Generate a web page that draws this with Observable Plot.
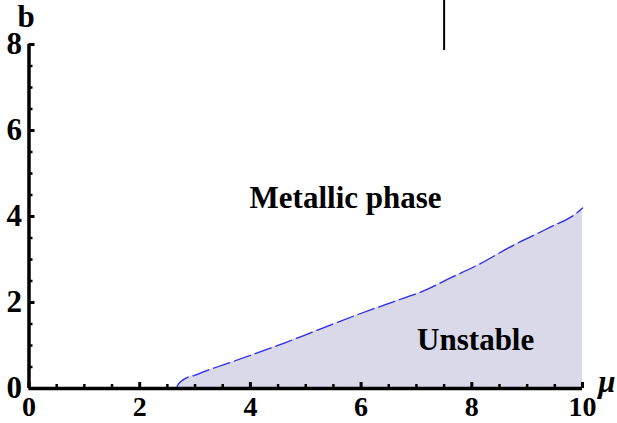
<!DOCTYPE html>
<html>
<head>
<meta charset="utf-8">
<script src="https://cdn.jsdelivr.net/npm/d3@7"></script>
<script src="https://cdn.jsdelivr.net/npm/@observablehq/plot@0.6"></script>
<style>
  html, body { margin: 0; padding: 0; background: #fff; }
  svg { display: block; }
</style>
</head>
<body>
<div id="chart"></div>
<script>
// Phase boundary (dashed blue curve)
const mu = [2.66, 2.70, 2.76, 2.85, 2.98, 3.2, 3.4, 4.0, 4.6, 5.2, 5.9, 6.7, 7.15, 7.55, 8.15, 8.75, 9.35, 9.95, 10];
const bVals = [0, 0.10, 0.18, 0.25, 0.30, 0.41, 0.50, 0.77, 1.05, 1.35, 1.70, 2.07, 2.28, 2.53, 2.90, 3.33, 3.71, 4.14, 4.20];

// Vertical marker segment
const markerMu = [7.5];
const markerB = [7.86, 9.1];

// Ticks
const xMajor = [0, 2, 4, 6, 8, 10];
const xMinor = [0.5, 1, 1.5, 2.5, 3, 3.5, 4.5, 5, 5.5, 6.5, 7, 7.5, 8.5, 9, 9.5];
const yMajor = [0, 2, 4, 6, 8];
const yMinor = [0.5, 1, 1.5, 2.5, 3, 3.5, 4.5, 5, 5.5, 6.5, 7, 7.5];

// Region labels
const labels = [
  {text: "Metallic phase", x: 5.72, y: 4.42},
  {text: "Unstable", x: 8.07, y: 1.12}
];

const curve = mu.map((m, i) => ({mu: m, b: bVals[i]}));
const font = "'Liberation Serif', 'Times New Roman', serif";
const FS = 31;

const chart = Plot.plot({
  width: 617,
  height: 423,
  marginLeft: 28.5,
  marginRight: 35,
  marginTop: 44,
  marginBottom: 35,
  style: {fontFamily: font, fontWeight: "bold", fontSize: FS + "px", background: "#fff"},
  x: {domain: [0, 10], axis: null},
  y: {domain: [0, 8], axis: null},
  marks: [
    Plot.areaY(curve, {x: "mu", y: "b", fill: "#d9d9ea", curve: "monotone-x"}),
    Plot.line(curve, {x: "mu", y: "b", stroke: "#2a2af0", strokeWidth: 1.3, strokeDasharray: "17,5", curve: "monotone-x"}),
    // axis lines
    Plot.ruleY([0], {x1: 0, x2: 10, stroke: "#000", strokeWidth: 3.5}),
    Plot.ruleX([0], {y1: 0, y2: 8, stroke: "#000", strokeWidth: 3.5}),
    // ticks
    Plot.axisX(xMajor, {tickSize: -6, text: null, strokeWidth: 3, anchor: "bottom"}),
    Plot.axisX(xMinor, {tickSize: -4, text: null, strokeWidth: 2.5, anchor: "bottom"}),
    Plot.axisY(yMajor, {tickSize: -6, text: null, strokeWidth: 3, anchor: "left"}),
    Plot.axisY(yMinor, {tickSize: -4, text: null, strokeWidth: 2.5, anchor: "left"}),
    // tick labels
    Plot.axisX(xMajor, {tickSize: 0, tickPadding: 8, anchor: "bottom", fontSize: 28, fontWeight: "bold", fill: "#000"}),
    Plot.axisY(yMajor, {tickSize: 0, tickPadding: 7, anchor: "left", fontSize: FS, fontWeight: "bold", fill: "#000"}),
    // vertical marker
    Plot.ruleX(markerMu, {y1: markerB[0], y2: markerB[1], stroke: "#000", strokeWidth: 2}),
    // region labels
    Plot.text(labels, {x: "x", y: "y", text: "text", fontSize: FS, fontWeight: "bold", fill: "#000"}),
    // axis titles
    Plot.text(["b"], {x: -0.05, y: 8.4, text: d => d, lineAnchor: "bottom", fontSize: FS, fontWeight: "bold", fill: "#000"}),
    Plot.text(["μ"], {x: 10.44, y: -0.09, text: d => d, lineAnchor: "bottom", fontSize: FS, fontWeight: "bold", fontStyle: "italic", fill: "#000"})
  ]
});
document.getElementById("chart").appendChild(chart);
</script>
</body>
</html>
